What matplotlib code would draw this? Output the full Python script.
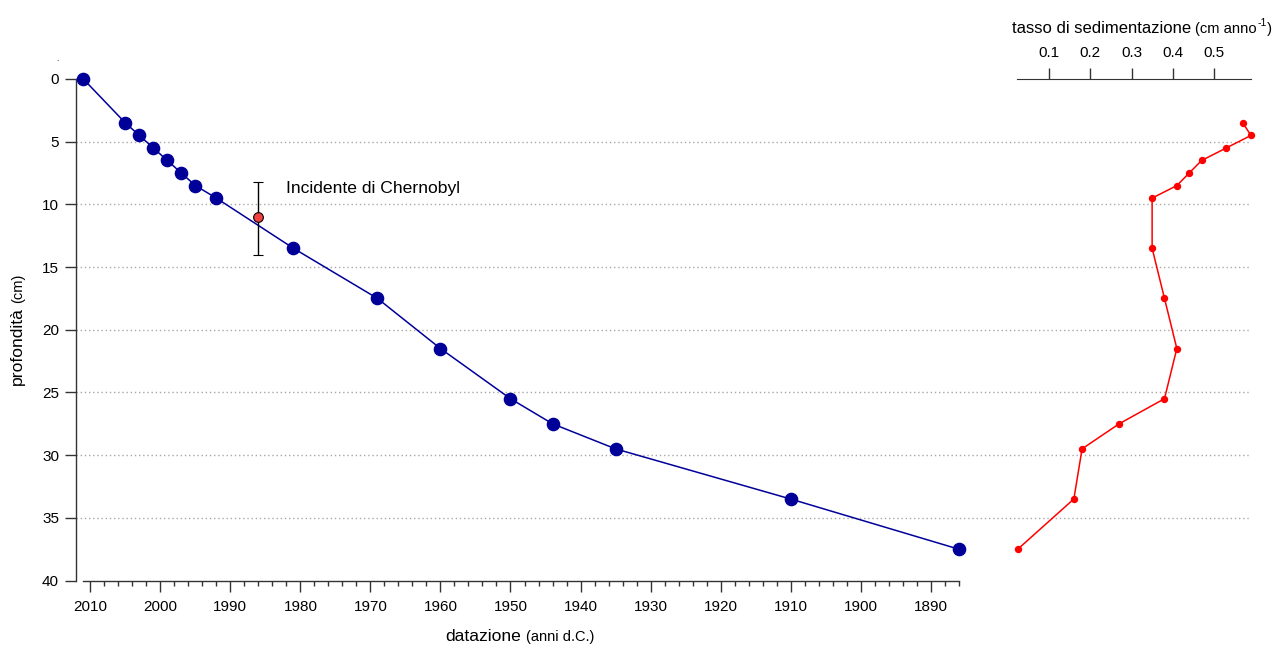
import matplotlib
matplotlib.use("Agg")
import matplotlib.pyplot as plt
from matplotlib.ticker import MultipleLocator

plt.rcParams["font.family"] = ["Liberation Sans", "DejaVu Sans"]

# age-depth model (blue)
depth = [0, 3.5, 4.5, 5.5, 6.5, 7.5, 8.5, 9.5, 13.5, 17.5, 21.5, 25.5, 27.5, 29.5, 33.5, 37.5]
year = [2011, 2005, 2003, 2001, 1999, 1997, 1995, 1992, 1981, 1969, 1960, 1950, 1944, 1935, 1910, 1886]

# sedimentation rate (red)
rate_depth = [3.5, 4.5, 5.5, 6.5, 7.5, 8.5, 9.5, 13.5, 17.5, 21.5, 25.5, 27.5, 29.5, 33.5, 37.5]
rate = [0.57, 0.59, 0.53, 0.47, 0.44, 0.41, 0.35, 0.35, 0.38, 0.41, 0.38, 0.27, 0.18, 0.16, 0.024]
rate_ticks = [0.1, 0.2, 0.3, 0.4, 0.5]

# Chernobyl marker
chern_year = 1986
chern_depth = 11
chern_err = [[2.75], [3.0]]
chern_label = "Incidente di Chernobyl"

W, H = 1275, 645
fig = plt.figure(figsize=(W / 100, H / 100), dpi=100)


def box(x0, y0, x1, y1):
    # pixel box (top-left origin) -> figure fraction rect
    return [x0 / W, 1 - y1 / H, (x1 - x0) / W, (y1 - y0) / H]


def ftext(x, y, s, **kw):
    return fig.text(x / W, 1 - y / H, s, **kw)


# dotted grid running under both panels
grid_ax = fig.add_axes(box(76, 79, 1250, 580.5))
grid_ax.set_ylim(40, 0)
grid_ax.axis("off")
for d in range(5, 40, 5):
    grid_ax.axhline(d, color="#a8a8a8", lw=1, ls=(0, (1, 2)))

# main panel
ax = fig.add_axes(box(83.3, 79, 958.7, 580.5))
ax.patch.set_visible(False)
ax.set_xlim(2011, 1886)
ax.set_ylim(40, 0)

ax.plot(year, depth, color="#000099", lw=1.1, marker="o", ms=8.8,
        zorder=3, clip_on=False)
ax.errorbar(chern_year, chern_depth, yerr=chern_err, fmt="o", color="black",
            ecolor="black", elinewidth=1, capsize=3.3, capthick=1,
            mfc="#f04040", mec="black", ms=7, mew=0.8, zorder=4)
ax.text(1982, 9.1, chern_label, fontsize=12.6, va="baseline", ha="left")

for s in ["top", "right"]:
    ax.spines[s].set_visible(False)
ax.spines["left"].set_position(("outward", 5))
for s in ["left", "bottom"]:
    ax.spines[s].set_color("#333333")
    ax.spines[s].set_linewidth(1)

ax.xaxis.set_major_locator(MultipleLocator(10))
ax.xaxis.set_minor_locator(MultipleLocator(2))
ax.yaxis.set_major_locator(MultipleLocator(5))
ax.tick_params(axis="x", which="major", length=8, width=1, pad=6,
               labelsize=11, color="#333333")
ax.tick_params(axis="x", which="minor", length=3.6, width=1, color="#333333")
ax.tick_params(axis="y", which="major", length=8, width=1, pad=4.5,
               labelsize=11, color="#333333")

# sedimentation rate panel
ax2 = fig.add_axes(box(1017.2, 79, 1251, 580.5))
ax2.patch.set_visible(False)
ax2.set_xlim(0.0225, 0.59)
ax2.set_ylim(40, 0)
ax2.plot(rate, rate_depth, color="#ff0000", lw=1.1, marker="o", ms=4.3,
         clip_on=False)
for s in ["bottom", "left", "right"]:
    ax2.spines[s].set_visible(False)
ax2.spines["top"].set_color("#333333")
ax2.xaxis.tick_top()
ax2.set_xticks(rate_ticks)
ax2.set_xticklabels([f"{v:.1f}" for v in rate_ticks])
ax2.set_yticks([])
ax2.tick_params(axis="x", length=8, width=1, pad=6, labelsize=11,
                color="#333333")

# labels with mixed font sizes
ftext(521, 641, "datazione", fontsize=12.6, ha="right", va="baseline")
ftext(525.5, 641, "(anni d.C.)", fontsize=10.5, ha="left", va="baseline")

ftext(22, 307, "profondità", fontsize=12.6, rotation=90,
      rotation_mode="anchor", ha="right", va="baseline")
ftext(22, 303, "(cm)", fontsize=10.5, rotation=90,
      rotation_mode="anchor", ha="left", va="baseline")

renderer = fig.canvas.get_renderer()
x = 1012
for s, size, dy, gap in [("tasso di sedimentazione", 12, 0, 4),
                         ("(cm anno", 10.6, 0, 0.5),
                         ("-1", 7.5, -7, 0.5),
                         (")", 10.6, 0, 0)]:
    t = ftext(x, 33 + dy, s, fontsize=size, ha="left", va="baseline")
    x += t.get_window_extent(renderer).width + gap

ftext(57.5, 61, ".", fontsize=6, ha="center", va="baseline")

fig.savefig("out.png", dpi=100)
